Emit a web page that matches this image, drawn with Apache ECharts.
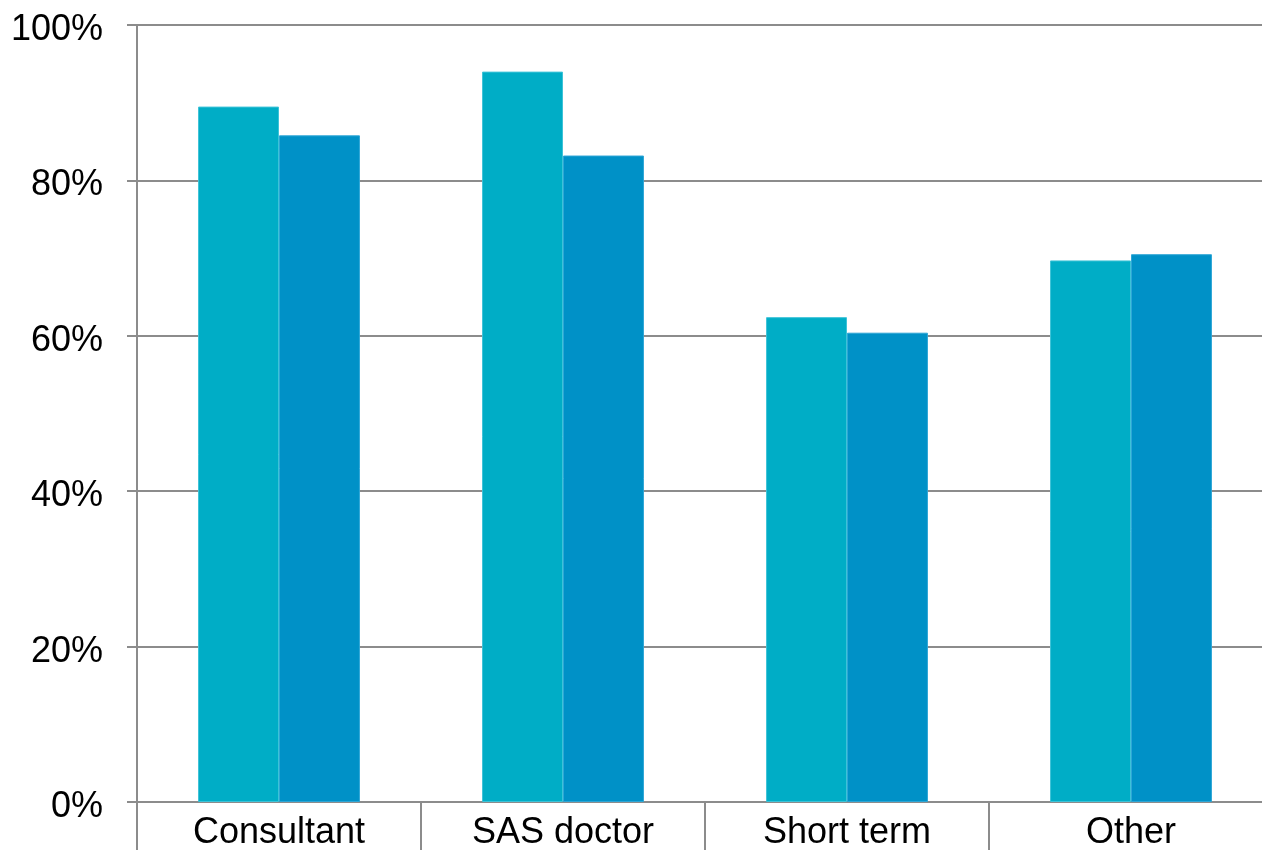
<!DOCTYPE html>
<html>
<head>
<meta charset="utf-8">
<script src="https://cdn.jsdelivr.net/npm/echarts@6/dist/echarts.min.js"></script>
<style>html,body{margin:0;padding:0;background:#fff;overflow:hidden;}#c{width:1262px;height:850px;}</style>
</head>
<body>
<div id="c"></div>
<script>
const categories = ['Consultant', 'SAS doctor', 'Short term', 'Other'];
const seriesA = [89.5, 94.0, 62.4, 69.7];
const seriesB = [85.8, 83.2, 60.4, 70.5];
const yTicks = [0, 20, 40, 60, 80, 100];

const chart = echarts.init(document.getElementById('c'), null, {renderer: 'canvas'});
const gray = '#8c8c8c';
chart.setOption({
  animation: false,
  backgroundColor: '#ffffff',
  grid: {left: 137, width: 1136, top: 25, bottom: 48, containLabel: false, outerBoundsMode: 'none'},
  xAxis: {
    type: 'category',
    data: categories,
    axisLine: {show: true, lineStyle: {color: gray, width: 2}},
    axisTick: {show: true, length: 50, lineStyle: {color: gray, width: 2}},
    axisLabel: {fontFamily: 'Liberation Sans, Arial, sans-serif', fontSize: 36, color: '#000', margin: 13},
    splitLine: {show: false}
  },
  yAxis: {
    type: 'value',
    min: yTicks[0],
    max: yTicks[yTicks.length - 1],
    interval: 20,
    axisLine: {show: true, lineStyle: {color: gray, width: 2}},
    axisTick: {show: true, length: 10, lineStyle: {color: gray, width: 2}},
    axisLabel: {fontFamily: 'Liberation Sans, Arial, sans-serif', fontSize: 36, color: '#000', margin: 34,
      formatter: v => '{a|' + v + '%}',
      rich: {a: {fontFamily: 'Liberation Sans, Arial, sans-serif', fontSize: 36, color: '#000',
        lineHeight: 36, padding: [10, 0, 0, 0]}}},
    splitLine: {show: true, lineStyle: {color: gray, width: 2}}
  },
  series: [
    {type: 'bar', data: seriesA, barGap: '0%', barCategoryGap: '43%',
      itemStyle: {color: '#00adc6', borderColor: '#3dc3d8', borderWidth: 1}},
    {type: 'bar', data: seriesB, barGap: '0%', barCategoryGap: '43%',
      itemStyle: {color: '#0091c7', borderColor: '#2ea6d6', borderWidth: 1}}
  ]
});
</script>
</body>
</html>
